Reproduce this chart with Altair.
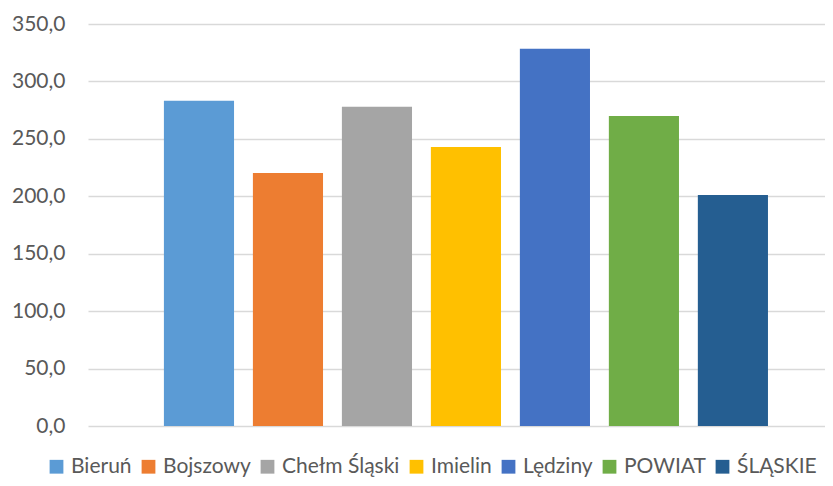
import altair as alt
import pandas as pd

categories = ["Bieruń", "Bojszowy", "Chełm Śląski", "Imielin", "Lędziny", "POWIAT", "ŚLĄSKIE"]
values = [283.1, 220.3, 277.9, 243.0, 328.4, 270.0, 201.1]
colors = ["#5B9BD5", "#ED7D31", "#A5A5A5", "#FFC000", "#4472C4", "#70AD47", "#255E91"]
y_ticks = [0, 50, 100, 150, 200, 250, 300, 350]

df = pd.DataFrame({"kat": categories, "wartosc": values})

FONT = "Lato"

chart = alt.Chart(df).mark_bar().encode(
    x=alt.X("kat:N", sort=categories, axis=None,
            scale=alt.Scale(paddingInner=0.212, paddingOuter=0.747, align=0.571)),
    y=alt.Y("wartosc:Q",
            scale=alt.Scale(domain=[0, 350], nice=False),
            axis=alt.Axis(values=y_ticks, title=None, domain=False, ticks=False,
                          labelExpr="replace(format(datum.value, '.1f'), '.', ',')",
                          labelFont=FONT, labelFontSize=21, labelColor="#595959",
                          labelPadding=23, gridColor="#d9d9d9", gridWidth=1.3)),
    color=alt.Color("kat:N", sort=categories,
                    scale=alt.Scale(domain=categories, range=colors),
                    legend=alt.Legend(title=None, orient="none", direction="horizontal",
                                      legendX=-42, legendY=432, symbolType="square",
                                      symbolSize=190, symbolStrokeWidth=0,
                                      labelFont=FONT, labelFontSize=21, labelColor="#595959",
                                      labelOffset=4, columnPadding=6, padding=0,
                                      labelLimit=300)),
).properties(
    width=737, height=402,
    padding={"left": 80, "top": 16, "right": 0, "bottom": 52},
    autosize=alt.AutoSizeParams(type="none"),
).configure_view(stroke=None)

chart.save("out.html", embed_options={"renderer": "svg", "actions": False})
